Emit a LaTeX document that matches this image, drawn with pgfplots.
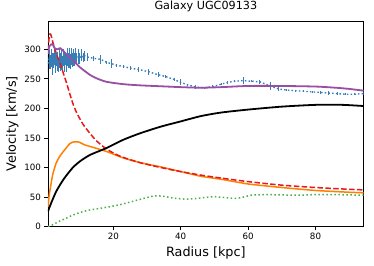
\documentclass[border=0pt]{standalone}
\usepackage{pgfplots}
\pgfplotsset{compat=1.18}
\usepackage{fontspec}
\setmainfont{DejaVu Sans}
\definecolor{sblue}{HTML}{377EB8}
\definecolor{sorange}{HTML}{FF7F00}
\definecolor{sgreen}{HTML}{4DAF4A}
\definecolor{sred}{HTML}{E41A1C}
\definecolor{spurple}{HTML}{984EA3}
\begin{document}
\begin{tikzpicture}
\begin{axis}[
  scale only axis, width=315.7pt, height=205.5pt,
  xmin=0.6, xmax=94.3, ymin=0, ymax=348,
  xtick={20,40,60,80}, ytick={0,50,100,150,200,250,300},
  tick align=outside, major tick length=3.5pt,
  xtick pos=bottom, ytick pos=left,
  axis line style={line width=0.8pt}, every tick/.style={line width=0.8pt, black},
  /pgf/number format/assume math mode=true,
  tick label style={font=\fontsize{8.7}{10}\selectfont},
  title={Galaxy UGC09133},
  title style={font=\fontsize{11.2}{13}\selectfont, at={(axis description cs:0.5,1.0292)}, anchor=base},
  xlabel={Radius [kpc]},
  xlabel style={font=\fontsize{12.8}{15}\selectfont, at={(axis description cs:0.5,-0.147)}, anchor=base},
  ylabel={Velocity [km/s]},
  ylabel style={font=\fontsize{12.8}{15}\selectfont, at={(axis description cs:-0.1014,0.5)}, anchor=base},
  clip=true,
]
\coordinate (sw) at (rel axis cs:0,0);
\coordinate (ne) at (rel axis cs:1,1);
% observed rotation curve
\addplot[color=sblue, line width=1.4pt, dash pattern=on 1.5pt off 2.2pt, mark=none,
  error bars/.cd, y dir=both, y explicit, error bar style={line width=1pt, solid, sblue}, error mark=none]
  table[x=x, y=y, y error=e] {
x y e
0.6 276 14
0.9 283 16
1.2 278 12
1.5 285 15
1.8 275 18
2.1 281 12
2.4 287 14
2.7 277 17
3.0 283 11
3.3 280 16
3.6 274 12
3.9 285 17
4.2 278 15
4.5 283 18
4.8 276 12
5.1 286 15
5.4 279 17
5.7 284 11
6.0 277 15
6.3 287 16
6.6 281 12
6.9 285 17
7.2 279 13
7.5 288 15
7.8 282 12
8.1 286 14
8.4 283 11
8.8 289 13
9.2 284 10
9.6 288 12
10.0 285 9
10.5 290 10
11.0 286 8
11.5 289 9
12.2 287 6
14.0 285 4
16.3 283 8
18.0 278 3
19.3 276 8
21.0 273 3
23.0 271 2
25.0 268 3
27.5 266 4
30.5 262 5
33.3 257 4
35.5 254 3
38.0 249 3
40.0 244 5
42.0 240 2
44.5 236 3
47.0 235 2
49.5 237 2
52.0 241 2
54.0 244 2
56.0 246 2
58.6 247 6
61.0 246 2
63.5 245 3
66.5 238 6
69.0 233 3
71.5 231 2
74.0 230 2
76.5 229 2
79.0 228 2
81.5 227 2
84.0 226 3
86.5 225 2
89.0 224 2
91.5 224 2
94.3 225 2
};
% gas (orange)
\addplot[color=sorange, line width=1.5pt, smooth, tension=0.3] coordinates {
(0.6,33) (1,55) (2,88) (3,107) (4,118) (5,126) (6,133) (7,140) (8,143) (9.5,143.5) (10.5,141)
(11.6,138) (14,134) (18,127) (23,116) (28,108) (34,101) (40,93) (46,85) (52,80) (60,72)
(70,66) (80,61) (90,58) (94.3,57)};
% red dashed
\addplot[color=sred, line width=1.5pt, dash pattern=on 5.5pt off 2.4pt, smooth, tension=0.4] coordinates {
(0.6,298) (0.9,318) (1.2,326) (1.5,324) (2,313) (3,294) (4,279) (5,262) (6,245) (7,226) (8,208)
(9,194) (10,183) (11,173) (13,158) (15,145) (18,131) (22,119) (28,108) (34,100) (40,93)
(46,87) (52,82) (60,76) (70,70) (80,66) (90,63) (94.3,62)};
% green dotted
\addplot[color=sgreen, line width=1.5pt, dash pattern=on 1.5pt off 2.5pt, smooth, tension=0.4] coordinates {
(0.6,0) (2,3) (4,9) (6,14) (8,19.5) (10,23.5) (13,28) (18,32.5) (22,37) (26,43) (30,49)
(32.5,52) (35,51) (38,48) (41,46.5) (44,47) (47,49) (50,50.5) (53,49) (56,47.5) (58,49)
(61,53) (65,54) (70,53.5) (75,53) (80,54) (85,54) (90,53.5) (94.3,53)};
% black
\addplot[color=black, line width=1.8pt, smooth, tension=0.4] coordinates {
(0.6,25) (1,32) (2,46) (3,59) (4,69) (5,78) (6,86) (8,100) (10,110) (13,121) (18,133)
(23,147) (28,158) (34,169) (40,178) (46,187) (52,193) (60,198) (70,203) (80,206) (88,206) (94.3,204)};
% purple
\addplot[color=spurple, line width=1.8pt, smooth, tension=0.4] coordinates {
(0.6,292) (1,305) (1.9,309) (2.7,301) (3.4,300) (4.2,302) (5,298) (6,292) (7,286) (8.1,281)
(10,270) (13,257) (15,251) (18,245) (23,241) (28,239) (34,237.5) (40,236) (46,235) (52,236)
(60,238) (70,238) (80,237) (86,235) (90,233) (94.3,230)};
\end{axis}
\pgfresetboundingbox
\path ([shift={(-48pt,-39.5pt)}]sw) rectangle ([shift={(10.3pt,21pt)}]ne);
\end{tikzpicture}
\end{document}
